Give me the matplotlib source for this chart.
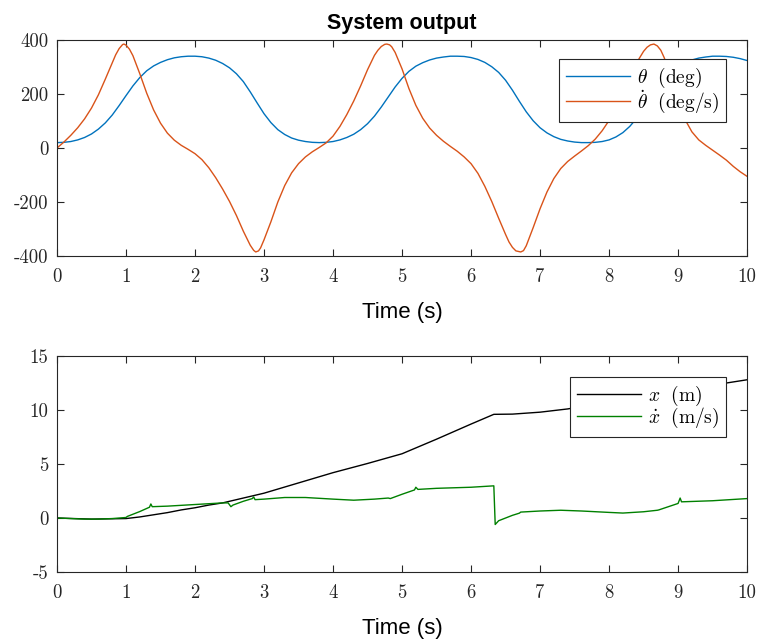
import matplotlib
matplotlib.use("Agg")
import matplotlib.pyplot as plt

plt.rcParams['mathtext.fontset'] = 'cm'
plt.rcParams['axes.unicode_minus'] = False

# ---- data ----
# top plot: angle (deg), sampled every 0.1 s
t_theta = [0.0, 0.1, 0.2, 0.3, 0.4, 0.5, 0.6, 0.7, 0.8, 0.9,
           1.0, 1.1, 1.2, 1.3, 1.4, 1.5, 1.6, 1.7, 1.8, 1.9,
           2.0, 2.1, 2.2, 2.3, 2.4, 2.5, 2.6, 2.7, 2.8, 2.9,
           3.0, 3.1, 3.2, 3.3, 3.4, 3.5, 3.6, 3.7, 3.8, 3.9,
           4.0, 4.1, 4.2, 4.3, 4.4, 4.5, 4.6, 4.7, 4.8, 4.9,
           5.0, 5.1, 5.2, 5.3, 5.4, 5.5, 5.6, 5.7, 5.8, 5.9,
           6.0, 6.1, 6.2, 6.3, 6.4, 6.5, 6.6, 6.7, 6.8, 6.9,
           7.0, 7.1, 7.2, 7.3, 7.4, 7.5, 7.6, 7.7, 7.8, 7.9,
           8.0, 8.1, 8.2, 8.3, 8.4, 8.5, 8.6, 8.7, 8.8, 8.9,
           9.0, 9.1, 9.2, 9.3, 9.4, 9.5, 9.6, 9.7, 9.8, 9.9,
           10.0]
theta = [20, 21, 24, 30, 39, 52, 70, 93, 122, 157,
         194, 230, 261, 286, 304, 317, 327, 334, 338, 340,
         340, 338, 333, 325, 313, 297, 275, 246, 208, 167,
         127, 94, 68, 50, 37, 29, 24, 21, 20, 21,
         24, 30, 39, 51, 68, 90, 118, 152, 189, 226,
         258, 284, 303, 316, 326, 333, 337, 340, 340, 339,
         335, 328, 317, 301, 280, 251, 214, 173, 134, 101,
         75, 56, 42, 32, 26, 22, 20, 20, 21, 24,
         30, 41, 57, 80, 110, 145, 183, 220, 253, 280,
         300, 315, 326, 333, 337, 340, 340, 339, 336, 331,
         324]

# top plot: angular rate (deg/s), extra samples around the peaks
t_rate = [0.0, 0.1, 0.2, 0.3, 0.4, 0.5, 0.6, 0.7, 0.8, 0.85,
          0.9, 0.95, 0.97, 1.0, 1.05, 1.1, 1.2, 1.3, 1.4, 1.5,
          1.6, 1.7, 1.8, 1.9, 2.0, 2.1, 2.2, 2.3, 2.4, 2.5,
          2.6, 2.7, 2.8, 2.85, 2.88, 2.92, 2.95, 3.0, 3.1, 3.2,
          3.3, 3.4, 3.5, 3.6, 3.7, 3.8, 3.9, 4.0, 4.1, 4.2,
          4.3, 4.4, 4.5, 4.6, 4.65, 4.7, 4.75, 4.78, 4.82, 4.85,
          4.9, 5.0, 5.1, 5.2, 5.3, 5.4, 5.5, 5.6, 5.7, 5.8,
          5.9, 6.0, 6.1, 6.2, 6.3, 6.4, 6.5, 6.55, 6.6, 6.65,
          6.72, 6.76, 6.8, 6.9, 7.0, 7.1, 7.2, 7.3, 7.4, 7.5,
          7.6, 7.7, 7.8, 7.9, 8.0, 8.1, 8.2, 8.3, 8.4, 8.5,
          8.55, 8.6, 8.65, 8.7, 8.75, 8.8, 8.9, 9.0, 9.1, 9.2,
          9.3, 9.4, 9.5, 9.6, 9.7, 9.8, 9.9, 10.0]
rate = [0, 22, 47, 75, 108, 148, 197, 255, 315, 345,
        368, 383, 385, 381, 366, 342, 275, 203, 141, 92,
        55, 29, 10, -5, -21, -43, -73, -110, -152, -198,
        -250, -308, -360, -379, -385, -381, -370, -340, -273, -200,
        -139, -92, -58, -33, -14, 2, 19, 44, 80, 124,
        174, 230, 290, 343, 362, 376, 384, 385, 382, 375,
        354, 293, 220, 158, 110, 74, 47, 25, 6, -12,
        -33, -58, -94, -142, -198, -260, -320, -348, -368, -381,
        -385, -380, -362, -295, -225, -163, -113, -76, -50, -30,
        -11, 9, 33, 64, 102, 150, 206, 262, 316, 358,
        373, 382, 385, 378, 362, 334, 258, 175, 106, 60,
        30, 10, -8, -26, -45, -68, -88, -105]

# bottom plot: cart position (m)
t_x = [0.0, 0.5, 1.0, 1.2, 1.4, 1.6, 1.8, 2.0, 2.2, 2.4, 2.6, 2.8, 3.0, 3.5, 4.0, 4.5,
       5.0, 5.5, 6.0, 6.33, 6.6, 7.0, 7.4, 8.0, 8.5, 9.0, 9.5, 10.0]
x_pos = [0.0, -0.1, -0.05, 0.1, 0.3, 0.5, 0.75, 0.95, 1.2, 1.4, 1.7, 2.0, 2.3, 3.25, 4.2, 5.05,
         5.95, 7.3, 8.7, 9.6, 9.62, 9.8, 10.1, 10.75, 11.3, 11.8, 12.3, 12.8]

# bottom plot: cart velocity (m/s)
t_v = [0.0, 0.2, 0.4, 0.6, 0.8, 1.0, 1.02, 1.2, 1.34, 1.36, 1.38, 1.6, 2.0, 2.4, 2.48, 2.52,
       2.55, 2.7, 2.83, 2.85, 2.87, 3.0, 3.3, 3.6, 4.0, 4.3, 4.6, 4.8, 4.83, 5.0, 5.18, 5.2,
       5.23, 5.5, 6.0, 6.33, 6.35, 6.4, 6.6, 6.7, 6.72, 7.0, 7.3, 7.6, 8.0, 8.2, 8.5, 8.7,
       8.72, 9.0, 9.03, 9.05, 9.5, 10.0]
x_vel = [0.0, -0.05, -0.1, -0.1, -0.05, 0.05, 0.15, 0.6, 1.0, 1.3, 1.05, 1.1, 1.25, 1.4, 1.4, 1.05,
         1.2, 1.55, 1.8, 1.95, 1.7, 1.75, 1.9, 1.9, 1.75, 1.65, 1.75, 1.85, 1.8, 2.2, 2.6, 2.85,
         2.65, 2.75, 2.85, 2.98, -0.6, -0.25, 0.25, 0.45, 0.55, 0.65, 0.72, 0.65, 0.52, 0.46, 0.58, 0.72,
         0.75, 1.35, 1.85, 1.5, 1.6, 1.8]

xticks = [0, 1, 2, 3, 4, 5, 6, 7, 8, 9, 10]
yticks_top = [-400, -200, 0, 200, 400]
yticks_bot = [-5, 0, 5, 10, 15]

axcol = '#262626'
tickfont = {'family': 'cmr10', 'size': 13.5}


def style_axes(ax, yticks):
    ax.set_xlim(0, 10)
    ax.set_ylim(yticks[0], yticks[-1])
    ax.set_xticks(xticks)
    ax.set_xticklabels([str(v) for v in xticks], fontdict=tickfont, color=axcol)
    ax.set_yticks(yticks)
    ax.set_yticklabels([str(v) for v in yticks], fontdict=tickfont, color=axcol)
    ax.tick_params(direction='in', length=5, width=0.8, color=axcol,
                   top=True, right=True)
    ax.tick_params(axis='x', pad=9)
    ax.tick_params(axis='y', pad=6)
    for s in ax.spines.values():
        s.set_color(axcol)
        s.set_linewidth(0.8)
    ax.set_xlabel('Time (s)', family='Liberation Sans', fontsize=16, labelpad=11)


def add_legend(ax, anchor):
    leg = ax.legend(loc='upper right', bbox_to_anchor=anchor, borderaxespad=0,
                    fontsize=14, fancybox=False, framealpha=1, edgecolor=axcol,
                    handlelength=3.3, handletextpad=0.35, labelspacing=-0.1,
                    borderpad=0.35)
    leg.get_frame().set_linewidth(0.8)
    return leg


fig = plt.figure(figsize=(7.6, 6.41), dpi=100)
ax1 = fig.add_axes([0.075, 0.6006, 0.908, 0.337])
ax2 = fig.add_axes([0.075, 0.1076, 0.908, 0.337])

ax1.plot(t_theta, theta, color='#0072BD', lw=1.0, label=r'$\theta\ \ (\mathrm{deg})$')
ax1.plot(t_rate, rate, color='#D95319', lw=1.0, label=r'$\dot{\theta}\ \ (\mathrm{deg/s})$')
style_axes(ax1, yticks_top)
ax1.set_title('System output', family='Liberation Sans', fontsize=15.5,
              fontweight='bold', pad=8)
add_legend(ax1, (0.9696, 0.912))

ax2.plot(t_x, x_pos, color='k', lw=1.0, label=r'$x\ \ (\mathrm{m})$')
ax2.plot(t_v, x_vel, color='#008000', lw=1.0, label=r'$\dot{x}\ \ (\mathrm{m/s})$')
style_axes(ax2, yticks_bot)
add_legend(ax2, (0.970, 0.903))

fig.savefig('out.png', dpi=100)
